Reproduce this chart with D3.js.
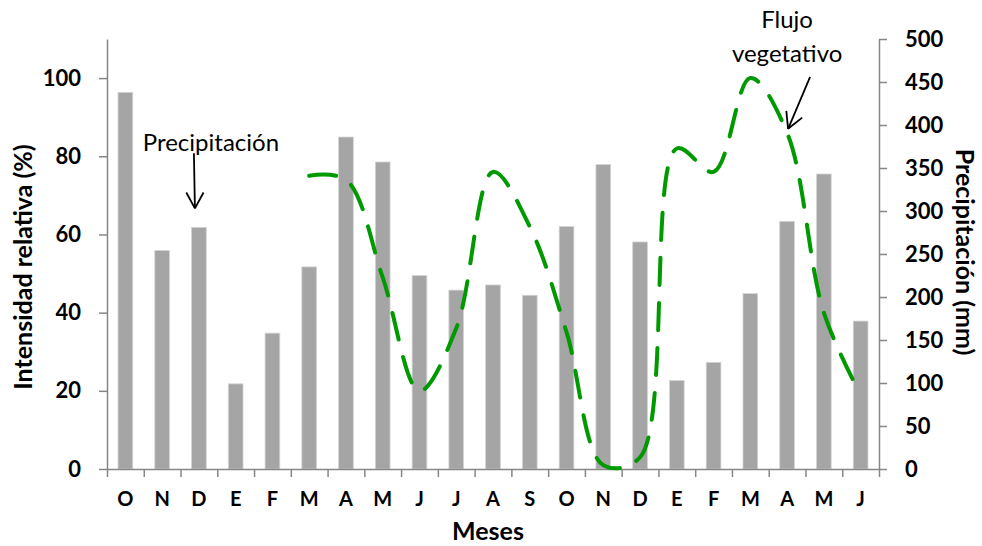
<!DOCTYPE html>
<html>
<head>
<meta charset="utf-8">
<script src="https://cdn.jsdelivr.net/npm/d3@7"></script>
<style>
  html, body { margin: 0; padding: 0; background: #fff; }
  svg { display: block; font-family: Lato, "Open Sans", sans-serif; }
</style>
</head>
<body>
<svg id="chart" width="982" height="546"></svg>
<script>
// Month sequence (Oct to Jun of the following year)
const months = ["O","N","D","E","F","M","A","M","J","J","A","S","O","N","D","E","F","M","A","M","J"];
// Monthly precipitation, mm (right axis)
const precipitation = [438,254,281,99,158,235,386,357,225,208,214,202,282,354,264,103,124,204,288,343,172];
// Relative intensity of vegetative flush, % (left axis); no record before March
const intensity = [null,null,null,null,null,75,74,49,20,36,76,62,35,1,3,82,76,100,86,40,19];
const leftTicks = [0,20,40,60,80,100];
const rightTicks = [0,50,100,150,200,250,300,350,400,450,500];

const FONT = 'Lato, "Open Sans", sans-serif';
const svg = d3.select("#chart");
const m = { left: 107, right: 879, top: 39, bottom: 469 };
const axisColor = "#868686";

const idx = months.map((_, i) => i);
const x = d3.scaleBand().domain(idx).range([m.left, m.right]).paddingInner(0).paddingOuter(0);
const xEdge = d3.scaleLinear().domain([0, months.length]).range([m.left, m.right]);
const yL = d3.scaleLinear().domain([0, 110]).range([m.bottom, m.top]);
const yR = d3.scaleLinear().domain([0, 500]).range([m.bottom, m.top]);
const cx = i => x(i) + x.bandwidth() / 2;

// Precipitation bars
const barW = x.bandwidth() * 0.4;
svg.append("g").selectAll("rect")
  .data(precipitation)
  .join("rect")
  .attr("x", (d, i) => cx(i) - barW / 2)
  .attr("y", d => yR(d))
  .attr("width", barW)
  .attr("height", d => yR(0) - yR(d))
  .attr("fill", "#a5a5a5")
  .attr("stroke", "#d4d4d4")
  .attr("stroke-width", 0.8);

function styleAxis(g, size) {
  g.attr("font-family", FONT).attr("font-size", size);
  g.selectAll("path, line").attr("stroke", axisColor).attr("stroke-width", 1.5);
  g.selectAll("text").attr("fill", "#000").attr("font-weight", 700);
}

// Left axis
svg.append("g")
  .attr("transform", `translate(${m.left},0)`)
  .call(d3.axisLeft(yL).tickValues(leftTicks).tickSize(8).tickSizeOuter(0).tickPadding(18))
  .call(styleAxis, 22);

// Right axis
svg.append("g")
  .attr("transform", `translate(${m.right},0)`)
  .call(d3.axisRight(yR).tickValues(rightTicks).tickSize(8).tickSizeOuter(0).tickPadding(18))
  .call(styleAxis, 22);

// Bottom axis: ticks between categories, labels at category centres
svg.append("g")
  .attr("transform", `translate(0,${m.bottom})`)
  .call(d3.axisBottom(xEdge).tickValues(d3.range(months.length + 1))
    .tickFormat("").tickSize(8).tickSizeOuter(0))
  .call(styleAxis, 20);

svg.append("g")
  .attr("transform", `translate(0,${m.bottom})`)
  .call(d3.axisBottom(x).tickFormat(i => months[i]).tickSize(0).tickPadding(23))
  .call(g => g.select(".domain").remove())
  .call(styleAxis, 20);

// Intensity line (smoothed, long dash)
const line = d3.line()
  .defined(d => d != null)
  .x((d, i) => cx(i))
  .y(d => yL(d))
  .curve(d3.curveCatmullRom.alpha(0.5));

svg.append("path")
  .datum(intensity)
  .attr("d", line)
  .attr("fill", "none")
  .attr("stroke", "#009a00")
  .attr("stroke-width", 4)
  .attr("stroke-linecap", "round")
  .attr("stroke-dasharray", "27 18");

// Axis titles
svg.append("text")
  .attr("transform", `translate(32,${(m.top + m.bottom) / 2 + 13}) rotate(-90)`)
  .attr("text-anchor", "middle")
  .attr("font-size", 25).attr("font-weight", 700)
  .text("Intensidad relativa (%)");

svg.append("text")
  .attr("transform", `translate(956,${(m.top + m.bottom) / 2 - 2}) rotate(90)`)
  .attr("text-anchor", "middle")
  .attr("font-size", 25).attr("font-weight", 700)
  .text("Precipitación (mm)");

svg.append("text")
  .attr("x", (m.left + m.right) / 2 - 5)
  .attr("y", 540)
  .attr("text-anchor", "middle")
  .attr("font-size", 25).attr("font-weight", 700)
  .text("Meses");

// Annotations
const arrowHead = (g, tx, ty, ang) => {
  const len = 18, spread = 0.5;
  [-spread, spread].forEach(s => {
    g.append("line")
      .attr("x1", tx - len * Math.cos(ang + s)).attr("y1", ty - len * Math.sin(ang + s))
      .attr("x2", tx).attr("y2", ty);
  });
};

const aP = svg.append("g").attr("stroke", "#000").attr("stroke-width", 1.8).attr("fill", "none");
const pTipX = cx(2) - 4, pTipY = yR(precipitation[2]) - 19;
aP.append("line").attr("x1", pTipX - 1).attr("y1", pTipY - 55).attr("x2", pTipX).attr("y2", pTipY);
arrowHead(aP, pTipX, pTipY, Math.PI / 2);

svg.append("text")
  .attr("x", cx(2) + 12).attr("y", 151)
  .attr("text-anchor", "middle")
  .attr("font-size", 24)
  .text("Precipitación");

const aF = svg.append("g").attr("stroke", "#000").attr("stroke-width", 1.8).attr("fill", "none");
const fTipX = cx(18) + 1, fTipY = yL(intensity[18]) - 4;
const fTailX = fTipX + 22, fTailY = fTipY - 52;
aF.append("line").attr("x1", fTailX).attr("y1", fTailY).attr("x2", fTipX).attr("y2", fTipY);
arrowHead(aF, fTipX, fTipY, Math.atan2(fTipY - fTailY, fTipX - fTailX));

const fl = svg.append("text")
  .attr("text-anchor", "middle")
  .attr("font-size", 24);
fl.append("tspan").attr("x", cx(18)).attr("y", 28).text("Flujo");
fl.append("tspan").attr("x", cx(18)).attr("y", 62).text("vegetativo");
</script>
</body>
</html>
